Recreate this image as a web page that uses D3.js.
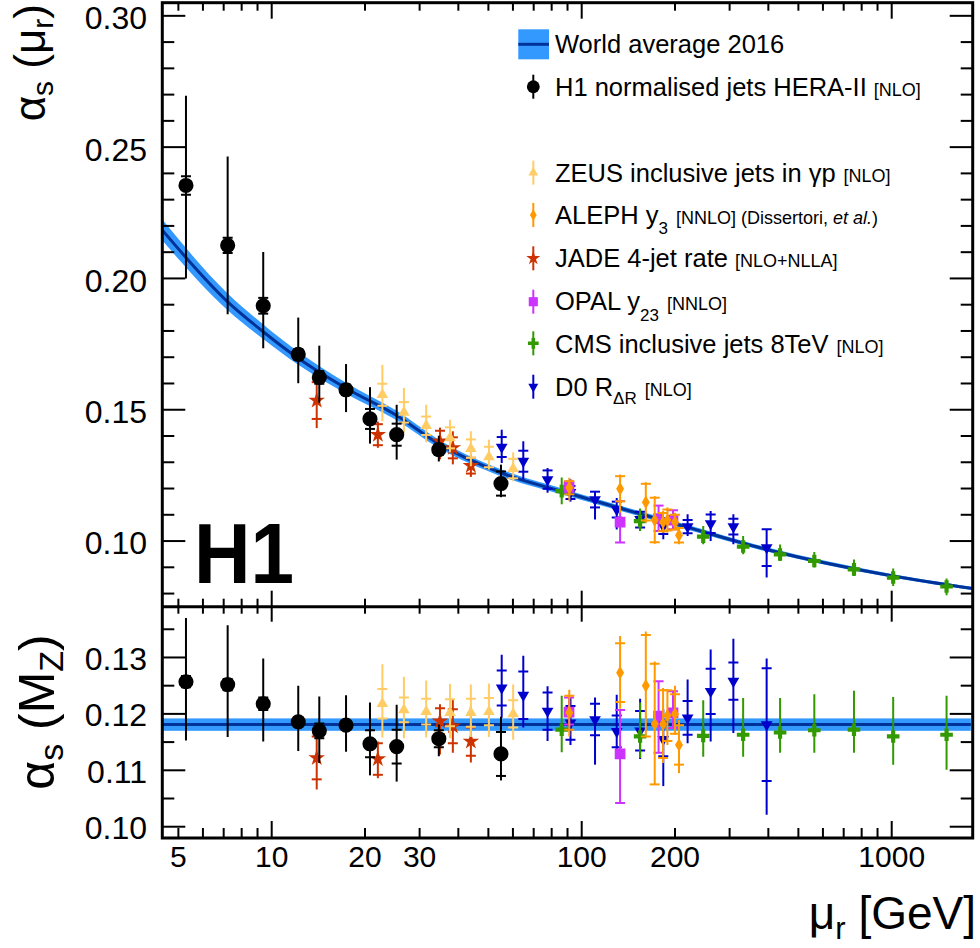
<!DOCTYPE html>
<html>
<head>
<meta charset="utf-8">
<script src="https://cdn.jsdelivr.net/npm/d3@7/dist/d3.min.js"></script>
<style>
html,body{margin:0;padding:0;background:#fff;}
svg text{font-family:"Liberation Sans",Arial,Helvetica,sans-serif;fill:#000;}
</style>
</head>
<body>
<svg id="chart" width="980" height="948"></svg>
<script>
// ================= DATA =================
// World average 2016 running alpha_s(mu) band
const waMu  = [4.43, 7.21, 9.39, 12.18, 17.37, 25.3, 34.6, 54.9, 91.2, 212.9, 395, 1010, 1830];
const waVal = [0.2185, 0.1911, 0.1797, 0.1696, 0.1582, 0.1478, 0.1370, 0.1260, 0.1181, 0.1057, 0.0968, 0.0867, 0.0819];
const waErr = [0.0040, 0.0032, 0.0028, 0.0025, 0.0021, 0.0018, 0.0016, 0.0013, 0.0011, 0.0009, 0.0008, 0.0007, 0.0006];
const waMz = 0.1181, waMzErr = 0.0011;

// H1 normalised jets HERA-II
const h1Mu    = [5.29, 7.21, 9.39, 12.18, 14.24, 17.37, 20.75, 25.3, 34.6, 54.9];
const h1Val   = [0.2354, 0.2126, 0.1896, 0.1711, 0.1623, 0.1576, 0.1465, 0.1405, 0.1348, 0.1219];
const h1Up    = [0.0342, 0.0338, 0.0205, 0.0140, 0.0121, 0.0098, 0.0121, 0.0114, 0.0053, 0.0072];
const h1Dn    = [0.0354, 0.0262, 0.0162, 0.0110, 0.0096, 0.0085, 0.0094, 0.0095, 0.0045, 0.0052];
const h1Exp   = [0.0035, 0.0029, 0.0030, 0.0020, 0.0024, 0.0020, 0.0038, 0.0042, 0.0020, 0.0046];
const h1Mz    = [0.1257, 0.1252, 0.1218, 0.1186, 0.1170, 0.1180, 0.1147, 0.1142, 0.1156, 0.1129];
const h1MzUp  = [0.0113, 0.0105, 0.0080, 0.0064, 0.0061, 0.0053, 0.0073, 0.0074, 0.0025, 0.0066];
const h1MzDn  = [0.0104, 0.0093, 0.0067, 0.0052, 0.0057, 0.0047, 0.0056, 0.0062, 0.0031, 0.0047];
const h1MzExp = [0.0010, 0.0010, 0.0011, 0.0008, 0.0013, 0.0008, 0.0024, 0.0030, 0.0015, 0.0039];

// ZEUS inclusive jets in gamma-p
const zeusMu    = [22.75, 26.7, 31.5, 37.6, 43.9, 50.2, 60.1];
const zeusVal   = [0.1557, 0.1490, 0.1439, 0.1393, 0.1352, 0.1320, 0.1276];
const zeusUp    = [0.0114, 0.0093, 0.0080, 0.0069, 0.0066, 0.0066, 0.0062];
const zeusDn    = [0.0101, 0.0078, 0.0063, 0.0055, 0.0067, 0.0048, 0.0048];
const zeusExp   = [0.0042, 0.0039, 0.0035, 0.0040, 0.0035, 0.0039, 0.0037];
const zeusMz    = [0.1218, 0.1207, 0.1204, 0.1202, 0.1202, 0.1204, 0.1200];
const zeusMzUp  = [0.0070, 0.0059, 0.0055, 0.0051, 0.0050, 0.0050, 0.0052];
const zeusMzDn  = [0.0060, 0.0050, 0.0046, 0.0045, 0.0043, 0.0045, 0.0046];
const zeusMzExp = [0.0026, 0.0022, 0.0023, 0.0024, 0.0025, 0.0024, 0.0024];

// ALEPH y3
const alephMu    = [91.2, 133, 161, 172, 183, 189, 200, 206];
const alephVal   = [0.1203, 0.1199, 0.1148, 0.1080, 0.1072, 0.1080, 0.1072, 0.1022];
const alephUp    = [0.0038, 0.0054, 0.0076, 0.0091, 0.0042, 0.0048, 0.0036, 0.0030];
const alephDn    = [0.0050, 0.0091, 0.0078, 0.0090, 0.0040, 0.0047, 0.0028, 0.0034];
const alephExp   = [0.0025, 0.0048, 0.0070, 0.0085, 0.0035, 0.0040, 0.0028, 0.0028];
const alephMz    = [0.1202, 0.1273, 0.1250, 0.1182, 0.1182, 0.1197, 0.1200, 0.1145];
const alephMzUp  = [0.0041, 0.0065, 0.0096, 0.0111, 0.0064, 0.0046, 0.0050, 0.0044];
const alephMzDn  = [0.0042, 0.0064, 0.0090, 0.0107, 0.0069, 0.0052, 0.0037, 0.0050];
const alephMzExp = [0.0030, 0.0052, 0.0090, 0.0107, 0.0060, 0.0045, 0.0035, 0.0035];

// JADE 4-jet rate
const jadeMu    = [13.97, 22.0, 34.9, 38.4, 43.9];
const jadeVal   = [0.1535, 0.1405, 0.1380, 0.1355, 0.1287];
const jadeUp    = [0.0066, 0.0050, 0.0052, 0.0063, 0.0042];
const jadeDn    = [0.0105, 0.0050, 0.0069, 0.0063, 0.0043];
const jadeExp   = [0.0070, 0.0040, 0.0040, 0.0040, 0.0030];
const jadeMz    = [0.1122, 0.1120, 0.1187, 0.1178, 0.1151];
const jadeMzUp  = [0.0036, 0.0031, 0.0030, 0.0047, 0.0062];
const jadeMzDn  = [0.0056, 0.0034, 0.0059, 0.0047, 0.0037];
const jadeMzExp = [0.0038, 0.0028, 0.0023, 0.0030, 0.0025];

// OPAL y23
const opalMu   = [91.0, 133, 177, 197];
const opalVal  = [0.1207, 0.1072, 0.1085, 0.1080];
const opalUp   = [0.0020, 0.0080, 0.0050, 0.0037];
const opalDn   = [0.0020, 0.0078, 0.0047, 0.0035];
const opalMz   = [0.1203, 0.1129, 0.1196, 0.1202];
const opalMzUp = [0.0026, 0.0078, 0.0062, 0.0038];
const opalMzDn = [0.0022, 0.0087, 0.0065, 0.0027];

// CMS inclusive jets 8 TeV
const cmsMu   = [86.2, 154.3, 246.6, 331.7, 436.4, 562.8, 755.6, 1011, 1503];
const cmsVal  = [0.1190, 0.1076, 0.1017, 0.0979, 0.0949, 0.0924, 0.0892, 0.0861, 0.0827];
const cmsUp   = [0.0052, 0.0048, 0.0040, 0.0040, 0.0038, 0.0034, 0.0038, 0.0034, 0.0030];
const cmsDn   = [0.0050, 0.0038, 0.0029, 0.0029, 0.0025, 0.0025, 0.0025, 0.0032, 0.0033];
const cmsMz   = [0.1172, 0.1160, 0.1161, 0.1163, 0.1167, 0.1171, 0.1172, 0.1160, 0.1163];
const cmsMzUp = [0.0060, 0.0060, 0.0063, 0.0065, 0.0061, 0.0064, 0.0069, 0.0070, 0.0069];
const cmsMzDn = [0.0040, 0.0038, 0.0037, 0.0039, 0.0036, 0.0040, 0.0041, 0.0050, 0.0062];

// D0 R_DeltaR
const d0Mu    = [55.2, 64.8, 77.6, 92.0, 110.4, 129.7, 154.3, 183.3, 219.6, 260.6, 308.5, 395];
const d0Val   = [0.1358, 0.1304, 0.1234, 0.1185, 0.1158, 0.1120, 0.1082, 0.1057, 0.1055, 0.1066, 0.1055, 0.0975];
const d0Up    = [0.0066, 0.0076, 0.0044, 0.0050, 0.0032, 0.0044, 0.0038, 0.0025, 0.0047, 0.0048, 0.0047, 0.0069];
const d0Dn    = [0.0061, 0.0069, 0.0050, 0.0035, 0.0076, 0.0076, 0.0044, 0.0050, 0.0036, 0.0066, 0.0067, 0.0114];
const d0Exp   = [0.0038, 0.0040, 0.0035, 0.0025, 0.0030, 0.0030, 0.0030, 0.0030, 0.0025, 0.0035, 0.0030, 0.0070];
const d0Mz    = [0.1246, 0.1233, 0.1205, 0.1184, 0.1190, 0.1169, 0.1170, 0.1155, 0.1193, 0.1240, 0.1258, 0.1181];
const d0MzUp  = [0.0059, 0.0070, 0.0044, 0.0045, 0.0039, 0.0065, 0.0057, 0.0053, 0.0068, 0.0074, 0.0075, 0.0117];
const d0MzDn  = [0.0053, 0.0057, 0.0053, 0.0039, 0.0080, 0.0044, 0.0050, 0.0083, 0.0045, 0.0089, 0.0092, 0.0160];
const d0MzExp = [0.0031, 0.0042, 0.0033, 0.0030, 0.0028, 0.0028, 0.0035, 0.0030, 0.0030, 0.0040, 0.0033, 0.0100];

// Axis tick labels
const xTickLabels   = [5, 10, 20, 30, 100, 200, 1000];
const xMajorTicks   = [10, 100, 1000];
const yTopLabels    = [0.10, 0.15, 0.20, 0.25, 0.30];
const yBotLabels    = [0.10, 0.11, 0.12, 0.13];

// ================= DRAWING =================
const svg = d3.select("#chart");
const xL = 162.3, xR = 972.7, yT = 2.7, yM = 606.7, yB = 838;

const x = d3.scaleLog().domain([4.437, 1825]).range([xL, xR]);
const yTop = d3.scaleLinear().domain([0.075, 0.305]).range([yM, yT]);
const yBot = d3.scaleLinear().domain([0.098, 0.139]).range([yB, yM]);

const defs = svg.append("defs");
defs.append("clipPath").attr("id", "clipTop").append("rect")
  .attr("x", xL).attr("y", yT).attr("width", xR - xL).attr("height", yM - yT);
defs.append("clipPath").attr("id", "clipBot").append("rect")
  .attr("x", xL).attr("y", yM).attr("width", xR - xL).attr("height", yB - yM);

const gTop = svg.append("g").attr("clip-path", "url(#clipTop)");
const gBot = svg.append("g").attr("clip-path", "url(#clipBot)");

const BAND = "#3399ff", BANDLINE = "#00339a";

// --- world average band, top panel
const waPts = waMu.map((m, i) => ({ m, v: waVal[i], e: waErr[i] }));
gTop.append("path")
  .attr("d", d3.area().x(d => x(d.m)).y0(d => yTop(d.v - d.e)).y1(d => yTop(d.v + d.e))
    .curve(d3.curveMonotoneX)(waPts))
  .attr("fill", BAND);
gTop.append("path")
  .attr("d", d3.line().x(d => x(d.m)).y(d => yTop(d.v)).curve(d3.curveMonotoneX)(waPts))
  .attr("fill", "none").attr("stroke", BANDLINE).attr("stroke-width", 3);

// --- world average band, bottom panel
const xd = x.domain();
gBot.append("rect")
  .attr("x", x(xd[0])).attr("width", x(1800) - x(xd[0]))
  .attr("y", yBot(waMz + waMzErr)).attr("height", yBot(waMz - waMzErr) - yBot(waMz + waMzErr))
  .attr("fill", BAND);
gBot.append("line")
  .attr("x1", x(xd[0])).attr("x2", x(1800))
  .attr("y1", yBot(waMz)).attr("y2", yBot(waMz))
  .attr("stroke", BANDLINE).attr("stroke-width", 3);

// --- marker helper
function marker(g, cx, cy, st, scale) {
  const s = scale || 1;
  g.append("path")
    .attr("d", d3.symbol().type(st.sym).size(st.size * s * s)())
    .attr("transform", `translate(${cx},${cy}) rotate(${st.rot || 0})`)
    .attr("fill", st.color);
}

function drawSeries(g, y, mu, val, up, dn, exp, st) {
  const cw = st.capW || 5;
  mu.forEach((m, i) => {
    const cx = x(m);
    g.append("line").attr("x1", cx).attr("x2", cx)
      .attr("y1", y(val[i] + up[i])).attr("y2", y(val[i] - dn[i]))
      .attr("stroke", st.color).attr("stroke-width", 2);
    if (exp) {
      [val[i] + exp[i], val[i] - exp[i]].forEach(v => {
        g.append("line").attr("x1", cx - cw).attr("x2", cx + cw)
          .attr("y1", y(v)).attr("y2", y(v))
          .attr("stroke", st.color).attr("stroke-width", 2);
      });
    }
    if (st.endCaps) {
      [val[i] + up[i], val[i] - dn[i]].forEach(v => {
        g.append("line").attr("x1", cx - cw).attr("x2", cx + cw)
          .attr("y1", y(v)).attr("y2", y(v))
          .attr("stroke", st.color).attr("stroke-width", 2);
      });
    }
    marker(g, cx, y(val[i]), st);
  });
}

const stD0    = { color: "#0000cc", sym: d3.symbolTriangle, size: 60, rot: 180, capW: 5 };
const stCMS   = { color: "#339900", sym: d3.symbolCross, size: 88 };
const stOPAL  = { color: "#cc33ff", sym: d3.symbolSquare, size: 115, endCaps: true, capW: 5 };
const stJADE  = { color: "#cc3300", sym: d3.symbolStar, size: 85, capW: 5 };
const stALEPH = { color: "#ff9900", sym: d3.symbolDiamond, size: 55, capW: 5 };
const stZEUS  = { color: "#ffcc66", sym: d3.symbolTriangle, size: 58, capW: 5 };
const stH1    = { color: "#000000", sym: d3.symbolCircle, size: 180, capW: 5 };

// top panel
drawSeries(gTop, yTop, d0Mu, d0Val, d0Up, d0Dn, d0Exp, stD0);
drawSeries(gTop, yTop, cmsMu, cmsVal, cmsUp, cmsDn, null, stCMS);
drawSeries(gTop, yTop, opalMu, opalVal, opalUp, opalDn, null, stOPAL);
drawSeries(gTop, yTop, jadeMu, jadeVal, jadeUp, jadeDn, jadeExp, stJADE);
drawSeries(gTop, yTop, alephMu, alephVal, alephUp, alephDn, alephExp, stALEPH);
drawSeries(gTop, yTop, zeusMu, zeusVal, zeusUp, zeusDn, zeusExp, stZEUS);
drawSeries(gTop, yTop, h1Mu, h1Val, h1Up, h1Dn, h1Exp, stH1);

// bottom panel
drawSeries(gBot, yBot, d0Mu, d0Mz, d0MzUp, d0MzDn, d0MzExp, stD0);
drawSeries(gBot, yBot, cmsMu, cmsMz, cmsMzUp, cmsMzDn, null, stCMS);
drawSeries(gBot, yBot, opalMu, opalMz, opalMzUp, opalMzDn, null, stOPAL);
drawSeries(gBot, yBot, jadeMu, jadeMz, jadeMzUp, jadeMzDn, jadeMzExp, stJADE);
drawSeries(gBot, yBot, alephMu, alephMz, alephMzUp, alephMzDn, alephMzExp, stALEPH);
drawSeries(gBot, yBot, zeusMu, zeusMz, zeusMzUp, zeusMzDn, zeusMzExp, stZEUS);
drawSeries(gBot, yBot, h1Mu, h1Mz, h1MzUp, h1MzDn, h1MzExp, stH1);

// ================= AXES / FRAME =================
const axG = svg.append("g").attr("stroke", "#000");
function tick(x1, y1, x2, y2, w) {
  axG.append("line").attr("x1", x1).attr("y1", y1).attr("x2", x2).attr("y2", y2)
    .attr("stroke-width", w || 2);
}
// x ticks
const xMinor = [];
[1, 10, 100, 1000].forEach(dec => { for (let k = 2; k <= 9; k++) { const v = k * dec; if (v >= xd[0] && v <= xd[1]) xMinor.push(v); } });
xMinor.forEach(v => {
  const px = x(v);
  tick(px, yT, px, yT + 8);      // top panel top edge
  tick(px, yM, px, yM - 8);      // top panel bottom edge
  tick(px, yM, px, yM + 7);      // bottom panel top edge
  tick(px, yB, px, yB - 10);     // bottom panel bottom edge
});
xMajorTicks.forEach(v => {
  const px = x(v);
  tick(px, yT, px, yT + 16);
  tick(px, yM, px, yM - 16);
  tick(px, yM, px, yM + 15);
  tick(px, yB, px, yB - 17);
});
// y ticks top
for (let i = 8; i <= 30; i++) {
  const v = i / 100, py = yTop(v);
  const major = (i % 5 === 0);
  const L = major ? 23 : 12;
  tick(xL, py, xL + L, py);
  tick(xR, py, xR - L, py);
}
// y ticks bottom
for (let i = 0; i <= 7; i++) {
  const v = 0.100 + i * 0.005, py = yBot(v);
  const major = (i % 2 === 0);
  const L = major ? 23 : 12;
  tick(xL, py, xL + L, py);
  tick(xR, py, xR - L, py);
}
// frame
axG.append("rect").attr("x", xL).attr("y", yT).attr("width", xR - xL).attr("height", yB - yT)
  .attr("fill", "none").attr("stroke-width", 3);
axG.append("line").attr("x1", xL).attr("x2", xR).attr("y1", yM).attr("y2", yM).attr("stroke-width", 3);

// tick labels
const lab = svg.append("g");
yTopLabels.forEach(v => {
  lab.append("text").attr("x", 147).attr("y", yTop(v) + 13.4).attr("text-anchor", "end")
    .style("font-size", "32px").text(v.toFixed(2));
});
yBotLabels.forEach(v => {
  lab.append("text").attr("x", 147).attr("y", yBot(v) + 12.5).attr("text-anchor", "end")
    .style("font-size", "32px").text(v.toFixed(2));
});
xTickLabels.forEach(v => {
  lab.append("text").attr("x", x(v)).attr("y", 867).attr("text-anchor", "middle")
    .style("font-size", "30px").text(v);
});

// rich text helper
function rich(g, attrs, parts) {
  const t = g.append("text");
  Object.entries(attrs).forEach(([k, v]) => t.attr(k, v));
  parts.forEach(p => {
    const s = t.append("tspan").text(p.t).style("font-size", p.s + "px");
    if (p.dy) s.attr("dy", p.dy);
    if (p.dx) s.attr("dx", p.dx);
    if (p.i) s.style("font-style", "italic");
  });
  return t;
}

// axis titles
rich(svg, { "text-anchor": "end", transform: "translate(976,929)" }, [
  { t: "μ", s: 46 }, { t: "r", s: 31, dy: 10 }, { t: " [GeV]", s: 46, dy: -10 }
]);
rich(svg, { "text-anchor": "end", transform: "translate(45,4) rotate(-90)" }, [
  { t: "α", s: 44 }, { t: "s", s: 30, dy: 8 }, { t: " (μ", s: 44, dy: -8 }, { t: "r", s: 30, dy: 8 }, { t: ")", s: 44, dy: -8 }
]);
rich(svg, { "text-anchor": "middle", transform: "translate(54,712) rotate(-90)" }, [
  { t: "α", s: 50 }, { t: "s", s: 34, dy: 9 }, { t: " (M", s: 50, dy: -9 }, { t: "Z", s: 34, dy: 9 }, { t: ")", s: 50, dy: -9 }
]);

// H1 logo
svg.append("text").attr("transform", "translate(194,582.7) scale(0.91,1)")
  .style("font-size", "86px").style("font-weight", "bold").text("H1");

// ================= LEGEND =================
const leg = svg.append("g");
const lx = 533.3, tx = 555;
// world average swatch
leg.append("rect").attr("x", 518.3).attr("y", 29.3).attr("width", 30.7).attr("height", 30).attr("fill", BAND);
leg.append("line").attr("x1", 518.3).attr("x2", 549).attr("y1", 44.3).attr("y2", 44.3).attr("stroke", BANDLINE).attr("stroke-width", 3);
rich(leg, { x: tx, y: 53.3 }, [{ t: "World average 2016", s: 25.5 }]);

function legMarker(cy, st) {
  leg.append("line").attr("x1", lx).attr("x2", lx).attr("y1", cy - 12).attr("y2", cy + 12)
    .attr("stroke", st.color).attr("stroke-width", 2);
  marker(leg, lx, cy, st, 0.85);
}
legMarker(86.7, stH1);
rich(leg, { x: tx, y: 96 }, [{ t: "H1 normalised jets HERA-II", s: 25.5 }, { t: "[NLO]", s: 18, dx: 7 }]);
legMarker(172.7, stZEUS);
rich(leg, { x: tx, y: 181.7 }, [{ t: "ZEUS inclusive jets in γp", s: 25.5 }, { t: "[NLO]", s: 18, dx: 8 }]);
legMarker(215, stALEPH);
rich(leg, { x: tx, y: 224.3 }, [{ t: "ALEPH y", s: 25.5 }, { t: "3", s: 17, dy: 10 }, { t: "[NNLO] (Dissertori, ", s: 18, dy: -10, dx: 8 }, { t: "et al.", s: 18, i: true }, { t: ")", s: 18 }]);
legMarker(258.3, stJADE);
rich(leg, { x: tx, y: 266.7 }, [{ t: "JADE 4-jet rate", s: 25.5 }, { t: "[NLO+NLLA]", s: 18, dx: 7 }]);
legMarker(301.7, stOPAL);
rich(leg, { x: tx, y: 310 }, [{ t: "OPAL y", s: 25.5 }, { t: "23", s: 17, dy: 11 }, { t: "[NNLO]", s: 18, dy: -11, dx: 8 }]);
legMarker(343.3, stCMS);
rich(leg, { x: tx, y: 353.3 }, [{ t: "CMS inclusive jets 8TeV", s: 25.5 }, { t: "[NLO]", s: 18, dx: 8 }]);
legMarker(386.7, stD0);
rich(leg, { x: tx, y: 396 }, [{ t: "D0 R", s: 25.5 }, { t: "ΔR", s: 17, dy: 8 }, { t: "[NLO]", s: 18, dy: -8, dx: 8 }]);
</script>
</body>
</html>
